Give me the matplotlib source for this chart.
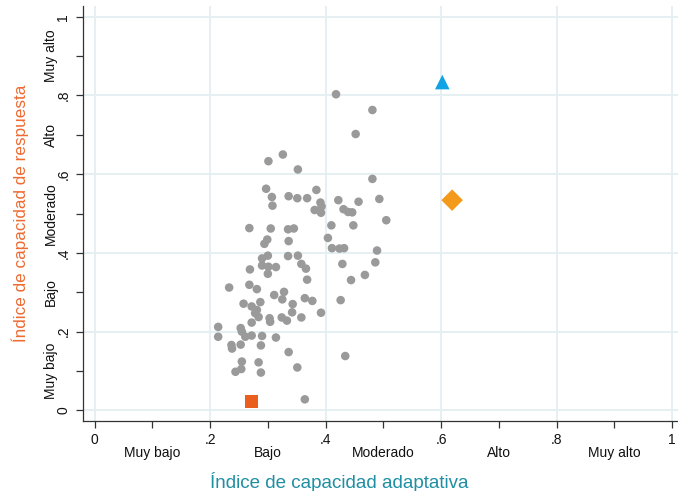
import matplotlib
matplotlib.use('Agg')

import matplotlib.pyplot as plt
import numpy as np

plt.rcParams['font.family'] = ['Liberation Sans', 'DejaVu Sans']

# Municipios (puntos grises): capacidad adaptativa (x) y capacidad de respuesta (y)
adapt = [0.418, 0.481, 0.452, 0.326, 0.301, 0.352, 0.481, 0.297, 0.384, 0.307,
         0.336, 0.351, 0.368, 0.308, 0.391, 0.393, 0.381, 0.392, 0.422, 0.457,
         0.493, 0.431, 0.439, 0.446, 0.505, 0.268, 0.305, 0.335, 0.345, 0.410,
         0.448, 0.299, 0.294, 0.336, 0.404, 0.411, 0.424, 0.432, 0.489, 0.486,
         0.429, 0.468, 0.444, 0.426, 0.434, 0.300, 0.290, 0.335, 0.352, 0.358,
         0.366, 0.368, 0.290, 0.301, 0.314, 0.300, 0.269, 0.268, 0.281, 0.233,
         0.311, 0.328, 0.325, 0.287, 0.258, 0.272, 0.281, 0.278, 0.284, 0.272,
         0.343, 0.342, 0.364, 0.377, 0.392, 0.358, 0.324, 0.333, 0.303, 0.304,
         0.214, 0.214, 0.253, 0.255, 0.261, 0.272, 0.290, 0.288, 0.314, 0.237,
         0.238, 0.253, 0.336, 0.255, 0.254, 0.244, 0.284, 0.288, 0.351, 0.364]
resp = [0.803, 0.763, 0.702, 0.650, 0.633, 0.612, 0.588, 0.563, 0.560, 0.542,
        0.544, 0.539, 0.539, 0.520, 0.528, 0.518, 0.509, 0.502, 0.534, 0.530,
        0.537, 0.511, 0.504, 0.503, 0.483, 0.463, 0.462, 0.460, 0.462, 0.470,
        0.470, 0.434, 0.423, 0.430, 0.438, 0.412, 0.411, 0.412, 0.406, 0.376,
        0.372, 0.344, 0.331, 0.280, 0.138, 0.393, 0.386, 0.392, 0.393, 0.372,
        0.360, 0.332, 0.368, 0.365, 0.364, 0.347, 0.358, 0.319, 0.308, 0.312,
        0.293, 0.301, 0.282, 0.275, 0.271, 0.264, 0.255, 0.247, 0.237, 0.223,
        0.270, 0.249, 0.285, 0.278, 0.248, 0.236, 0.236, 0.228, 0.234, 0.225,
        0.212, 0.187, 0.209, 0.200, 0.187, 0.190, 0.189, 0.165, 0.185, 0.166,
        0.157, 0.167, 0.148, 0.124, 0.105, 0.098, 0.122, 0.096, 0.109, 0.028]

# Casos destacados
tri_x, tri_y = [0.602], [0.834]
dia_x, dia_y = [0.619], [0.534]
sq_x, sq_y = [0.272], [0.022]

num_ticks = [0, 0.2, 0.4, 0.6, 0.8, 1]
num_labels = ['0', '.2', '.4', '.6', '.8', '1']
cat_ticks = [0.1, 0.3, 0.5, 0.7, 0.9]
cat_labels = ['Muy bajo', 'Bajo', 'Moderado', 'Alto', 'Muy alto']

fig = plt.figure(figsize=(6.78, 4.91), dpi=100)
ax = fig.add_axes([0.1224, 0.1426, 0.8776, 0.845])

ax.scatter(adapt, resp, s=38, color='#9a9a9a', edgecolors='none', zorder=3)
ax.scatter(tri_x, tri_y, s=110, marker='^', color='#0fa3e6', edgecolors='none', zorder=4)
ax.scatter(dia_x, dia_y, s=120, marker='D', color='#f49a1a', edgecolors='none', zorder=4)
ax.scatter(sq_x, sq_y, s=85, marker='s', color='#ea5e1e', edgecolors='none', zorder=4)

ax.set_xlim(-0.020, 1.010)
ax.set_ylim(-0.027, 1.027)

# ticks numericos (mayores) y categorias (menores)
ax.set_xticks(num_ticks)
ax.set_xticklabels(num_labels)
ax.set_xticks(cat_ticks, minor=True)
ax.set_xticklabels(cat_labels, minor=True)
ax.set_yticks(num_ticks)
ax.set_yticklabels(num_labels, rotation=90, va='center')
ax.set_yticks(cat_ticks, minor=True)
ax.set_yticklabels(cat_labels, minor=True, rotation=90, va='center')

ax.tick_params(which='both', length=5, width=0.9, color='#333333',
               labelsize=10, labelcolor='#111111')
ax.tick_params(axis='x', which='major', pad=4)
ax.tick_params(axis='x', which='minor', pad=13)
ax.tick_params(axis='y', which='major', pad=4)
ax.tick_params(axis='y', which='minor', pad=13)

ax.grid(True, which='major', color='#e4eff1', linewidth=1.3, zorder=0)
ax.set_axisbelow(True)

for side in ['top', 'right']:
    ax.spines[side].set_visible(False)
for side in ['left', 'bottom']:
    ax.spines[side].set_color('#333333')
    ax.spines[side].set_linewidth(0.9)

ax.set_xlabel('Índice de capacidad adaptativa', fontsize=13.5, color='#1f8fa3',
              labelpad=9, x=0.43)
ax.set_ylabel('Índice de capacidad de respuesta', fontsize=12.3, color='#ee6a30',
              labelpad=11)

fig.savefig('out.png', dpi=100)
